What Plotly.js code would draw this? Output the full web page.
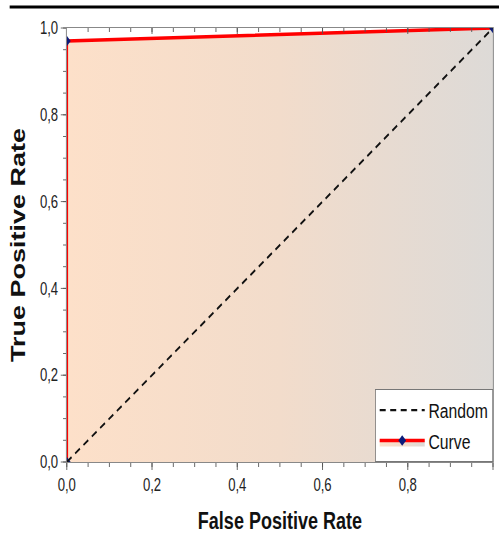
<!DOCTYPE html>
<html>
<head>
<meta charset="utf-8">
<script src="https://cdn.plot.ly/plotly-3.0.1.min.js"></script>
<style>
html,body{margin:0;padding:0;background:#fff;overflow:hidden;width:499px;height:534px;}
#wrap{width:499px;height:534px;overflow:hidden;position:relative;}
#chart{width:665px;height:534px;transform:scaleX(0.7504);transform-origin:0 0;position:absolute;left:0;top:0;}
</style>
</head>
<body>
<div id="wrap"><div id="chart"></div></div>
<script>
// Data
var randomX = [0, 1];
var randomY = [0, 1];
var curveX = [0, 0, 1];
var curveY = [0, 0.97, 1];
var tickVals = [0, 0.2, 0.4, 0.6, 0.8, 1.0];

var FONT = 'Arial, "Liberation Sans", sans-serif';

var traces = [
  {
    x: curveX, y: curveY, name: 'Curve', type: 'scatter', mode: 'lines+markers',
    legendrank: 2,
    line: {color: '#ff0000', width: 3.5},
    marker: {symbol: 'diamond', size: 8, color: '#0a1a7a'},
    fill: 'tozeroy',
    fillcolor: '#f8dfcc',
    fillgradient: {type: 'horizontal', colorscale: [[0, '#fde0c9'], [0.5, '#f2dccb'], [1, '#dddad7']]}
  },
  {
    x: randomX, y: randomY, name: 'Random', type: 'scatter', mode: 'lines',
    legendrank: 1,
    line: {color: '#111', width: 2.2, dash: '8px,6px'}
  },
  {
    x: curveX, y: curveY, xaxis: 'x2', type: 'scatter', mode: 'none',
    showlegend: false, hoverinfo: 'skip'
  }
];

var layout = {
  width: 665, height: 534,
  margin: {l: 89, r: 8, t: 28, b: 72},
  paper_bgcolor: '#ffffff',
  plot_bgcolor: '#ffffff',
  separators: ',.',
  font: {family: FONT, color: '#222'},
  showlegend: true,
  legend: {
    x: 1, y: 0, xanchor: 'right', yanchor: 'bottom',
    bgcolor: '#ffffff', bordercolor: '#777', borderwidth: 1,
    font: {family: FONT, size: 21, color: '#111'},
    tracegroupgap: 0, itemwidth: 60
  },
  xaxis: {
    range: [0, 1], tickvals: tickVals, tickformat: '.1f',
    ticks: 'outside', ticklen: 7, tickcolor: '#555',
    minor: {dtick: 0.05, ticks: 'outside', ticklen: 4, tickcolor: '#555'},
    showline: true, linecolor: '#777', linewidth: 1, mirror: true,
    showgrid: false, zeroline: false,
    tickfont: {family: FONT, size: 17.5, color: '#222'},
    title: {text: 'False Positive Rate', font: {family: FONT, size: 24, color: '#111', weight: 'bold'}, standoff: 20}
  },
  xaxis2: {
    overlaying: 'x', matches: 'x', side: 'top', anchor: 'y',
    range: [0, 1], tickvals: tickVals, showticklabels: false,
    ticks: 'inside', ticklen: 6, tickcolor: '#555',
    minor: {dtick: 0.05, ticks: 'inside', ticklen: 4, tickcolor: '#555'},
    showgrid: false, zeroline: false, showline: false
  },
  yaxis: {
    range: [0, 1], tickvals: tickVals, tickformat: '.1f',
    ticks: 'outside', ticklen: 7, tickcolor: '#555',
    minor: {dtick: 0.05, ticks: 'outside', ticklen: 4, tickcolor: '#555'},
    showline: true, linecolor: '#777', linewidth: 1, mirror: true,
    showgrid: false, zeroline: false,
    tickfont: {family: FONT, size: 17.5, color: '#222'},
    title: {text: 'True Positive Rate', font: {family: FONT, size: 27, color: '#111', weight: 'bold'}, standoff: 11}
  },
  shapes: [
    {type: 'line', xref: 'paper', yref: 'paper', x0: -0.134, x1: 1.02, y0: 1.0484, y1: 1.0484,
     line: {color: '#000', width: 3}}
  ]
};

Plotly.newPlot('chart', traces, layout, {displayModeBar: false, staticPlot: true});
</script>
</body>
</html>
